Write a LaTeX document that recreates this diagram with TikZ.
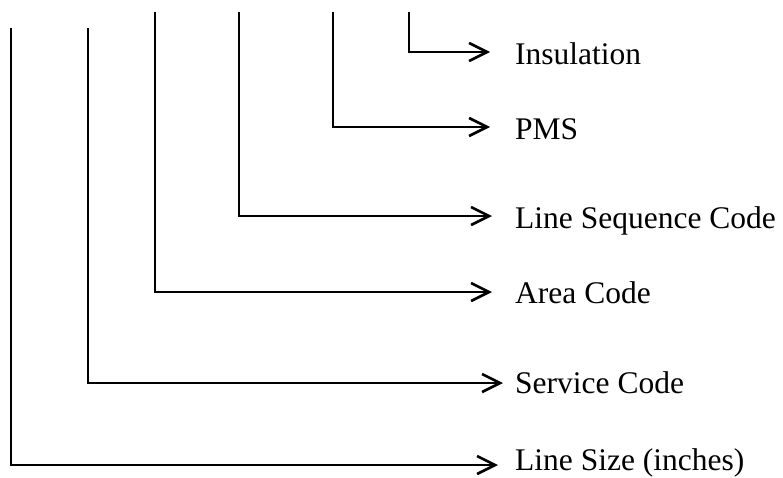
\documentclass[tikz,border=0pt]{standalone}
\usepackage{fontspec}
\setmainfont{Liberation Serif}
\usetikzlibrary{arrows.meta}

\tikzset{
  conn/.style={line width=2.6pt, -{Straight Barb[length=18pt, width=18pt]}},
  lbl/.style={anchor=base west, inner sep=0pt, font=\fontsize{31.5}{36}\selectfont},
}

\begin{document}
\begin{tikzpicture}[x=1pt, y=-1pt]
\useasboundingbox (0,0) rectangle (783,477);

\foreach \n/\xv/\yt/\yl/\yb/\xt/\txt in {%
  ins/409/12/52/64/490/Insulation,
  pms/333/12/127/139/490/PMS,
  seq/239/12/216/228/492/Line Sequence Code,
  area/155/12/292/303/492/Area Code,
  serv/88/28/383/393/503/Service Code,
  size/11/28/465/470/498/Line Size (inches)} {
  \coordinate (top-\n) at (\xv,\yt);
  \coordinate (tip-\n) at (\xt,\yl);
  \node[lbl] (lbl-\n) at (515,\yb) {\txt};
  \draw[conn] (top-\n) |- (tip-\n);
}
\end{tikzpicture}
\end{document}
